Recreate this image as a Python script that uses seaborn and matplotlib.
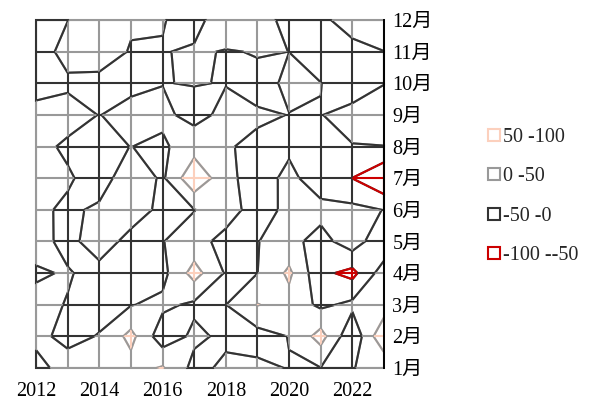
import numpy as np
import matplotlib
matplotlib.use("Agg")
import matplotlib.pyplot as plt
from matplotlib.patches import PathPatch
from matplotlib.lines import Line2D
import seaborn as sns

# grid axes
years = list(range(2012, 2024))
months = list(range(1, 13))
month_labels = [f"{m}月" for m in months]
year_ticks = [2012, 2014, 2016, 2018, 2020, 2022]

# monthly values, one row per month (Jan .. Dec), one column per year (2012 .. 2023)
m01 = [-19.9, 25, 25, 30, 55, -15, 10, 10, -2, -1, -0.5, 5]
m02 = [15, -16, 3, 65, -30, 10, -10, -20, 1.5, 70, -40.8, 95]
m03 = [11, -1.9, -20, -2, 11, -9, -0.5, 52, 30, -10, 11.5, 20]
m04 = [-4.8, 3.2, -13.3, -20, -15, 70, -5, -0.5, 60, -38, -65, 26.5]
m05 = [15, -12, 20, -13.3, -1, 16, -14, -1, 15, -18.4, 27.6, -41]
m06 = [12, -10, 9, 20, -10, -1, 20, -20, 11, 17, 12.6, -1]
m07 = [20, 7.2, -25.5, 34, -8, 90, 16, -27, 15, -32, -50.5, -100]
m08 = [17.8, -10, -10, 0.5, -8, 28, 2, -5, -10, -10, -1, -0.3]
m09 = [25, 23, -1.5, 20, 10, -15, 12, 3.5, -0.45, -0.75, 8.8, 10]
m10 = [-30, -10, -20, -15, -1, 1.7, -1.5, -10, 5.2, 0.5, -15, -0.5]
m11 = [-29, 20, 35, -5, -2.7, 6.9, -3, 2.5, -0.1, -15, -15, -0.5]
m12 = [-30, -1, 30, 9, 2.7, -20, 37, 28, -20, -10, 21, 25]

# value bands: edges, labels and colours from the lowest band to the highest
band_edges = [-100, -50, 0, 50, 100]
band_labels = ["-100 --50", "-50 -0", "0 -50", "50 -100"]
band_colors = ["#cc0000", "#333333", "#999999", "#fcd0bd"]

Z = np.array([m01, m02, m03, m04, m05, m06, m07, m08, m09, m10, m11, m12])

sns.set_theme(style="white")
plt.rcParams["font.family"] = ["Liberation Serif", "Noto Sans CJK SC"]

fig = plt.figure(figsize=(5.91, 4.03), dpi=100)
ax = fig.add_axes([36 / 591, 35 / 403, 348 / 591, 348 / 403])

cs = ax.contourf(years, months, Z, levels=band_edges)
band_paths = cs.get_paths()
cs.remove()

lw = 1.5
# draw bands from the highest to the lowest so lower bands sit on top
for idx in [3, 2, 1, 0]:
    path = band_paths[idx]
    color = band_colors[idx]
    if len(path.vertices) == 0:
        continue
    for yr in years:
        ln, = ax.plot([yr, yr], [1, 12], color=color, lw=lw, solid_capstyle="butt")
        ln.set_clip_path(path, ax.transData)
    for m in months:
        ln, = ax.plot([2012, 2023], [m, m], color=color, lw=lw, solid_capstyle="butt")
        ln.set_clip_path(path, ax.transData)
    patch = PathPatch(path, facecolor="none", edgecolor=color, lw=lw,
                      joinstyle="miter", clip_on=False)
    ax.add_patch(patch)

ax.set_xlim(2012, 2023)
ax.set_ylim(1, 12)
ax.set_xticks(year_ticks)
ax.set_xticklabels([str(y) for y in year_ticks])
ax.yaxis.tick_right()
ax.set_yticks(months)
ax.set_yticklabels(month_labels)
ax.tick_params(axis="x", length=0, pad=10, labelsize=14.5, colors="black")
ax.tick_params(axis="y", length=0, pad=6, labelsize=14.5, colors="black")
for side in ["left", "top", "bottom"]:
    ax.spines[side].set_visible(False)
ax.spines["right"].set_color("black")
ax.spines["right"].set_linewidth(1.4)
ax.set_facecolor("white")
ax.grid(False)

handles = [Line2D([], [], marker="s", markersize=8, markerfacecolor="white",
                  markeredgecolor=c, markeredgewidth=1.5, linestyle="none")
           for c in band_colors[::-1]]
fig.legend(handles, band_labels[::-1], loc="upper left",
           bbox_to_anchor=(477 / 591, 1 - 118 / 403), frameon=False,
           fontsize=14.5, handlelength=0.7, handletextpad=0.1,
           labelspacing=1.0, borderpad=0)

fig.savefig("out.png", dpi=100, facecolor="white")
